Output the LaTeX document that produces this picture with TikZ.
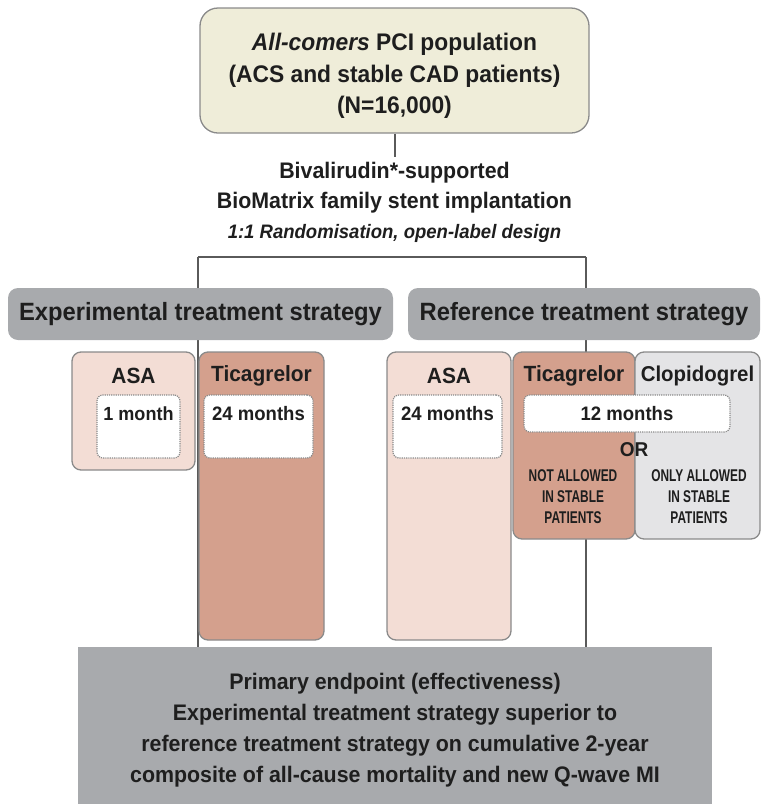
\documentclass[tikz,border=0pt]{standalone}
\usepackage{fontspec}
\setmainfont{Liberation Sans}[FakeStretch=0.95]
\newfontfamily\notefont{Liberation Sans}[FakeStretch=0.7]
\usetikzlibrary{backgrounds}
\definecolor{popfill}{HTML}{EFEDD9}
\definecolor{armfill}{HTML}{A8AAAD}
\definecolor{asafill}{HTML}{F3DDD5}
\definecolor{ticfill}{HTML}{D4A08D}
\definecolor{clofill}{HTML}{E4E4E6}
\definecolor{boxline}{HTML}{8A8A8A}
\definecolor{wireline}{HTML}{5A5A5A}
\definecolor{ink}{HTML}{1E1E1E}
\newcommand{\txtsize}[2]{\fontsize{#1}{#2}\selectfont\bfseries}
\tikzset{
  rbox/.style={draw=boxline, line width=1.3pt, rounded corners=9pt, inner sep=0pt},
  armbox/.style={fill=armfill, draw=none, rounded corners=10pt, inner sep=0pt},
  durbox/.style={draw=boxline, fill=white, densely dotted, line width=1.2pt, rounded corners=6pt, inner sep=0pt},
  txt/.style={text=ink, align=center, inner sep=0pt},
  wire/.style={draw=wireline, line width=2pt}
}
\begin{document}
\begin{tikzpicture}[x=1pt,y=-1pt]
\useasboundingbox (0,0) rectangle (767,804);
\node[rbox, fill=popfill, rounded corners=18pt, minimum width=389pt, minimum height=125pt] (pop) at (394.5,70.5){};
\node[txt, font=\txtsize{24}{31.5}] (poptxt) at (394.5,76){\itshape All-comers\upshape{} PCI population\\(ACS and stable CAD patients)\\(N=16,000)};
\node[txt, font=\txtsize{22.5}{30}] (stent) at (394.5,188){Bivalirudin*-supported\\BioMatrix family stent implantation};
\node[txt, font=\txtsize{19.5}{24}\itshape] (rand) at (394.5,233){1:1 Randomisation, open-label design};
\coordinate (split) at (394.5,157);
\coordinate (lft) at (198,257);
\coordinate (rgt) at (586,257);
\node[armbox, minimum width=385pt, minimum height=52pt] (expArm) at (200.5,314){};
\node[txt, font=\txtsize{25}{30}] at (expArm){Experimental treatment strategy};
\node[armbox, minimum width=352pt, minimum height=52pt] (refArm) at (584,314){};
\node[txt, font=\txtsize{25}{30}] at (refArm){Reference treatment strategy};
\node[rbox, fill=asafill, minimum width=123pt, minimum height=118pt] (asaE) at (133.5,411){};
\node[rbox, fill=ticfill, minimum width=125pt, minimum height=288pt] (ticE) at (261.5,496){};
\node[rbox, fill=asafill, minimum width=124pt, minimum height=288pt] (asaR) at (449,496){};
\node[rbox, fill=ticfill, minimum width=122pt, minimum height=187pt] (ticR) at (574,445.5){};
\node[rbox, fill=clofill, minimum width=125pt, minimum height=187pt] (clo) at (697.5,445.5){};
\node[txt, font=\txtsize{22}{26}] at (133.5,376){ASA};
\node[txt, font=\txtsize{22}{26}] at (261.5,376){Ticagrelor};
\node[txt, font=\txtsize{22}{26}] at (449,376){ASA};
\node[txt, font=\txtsize{22}{26}] at (574,376){Ticagrelor};
\node[txt, font=\txtsize{21.5}{26}] at (697.5,376){Clopidogrel};
\node[durbox, minimum width=83pt, minimum height=63pt] (durE1) at (138.5,426.5){};
\node[durbox, minimum width=109pt, minimum height=63pt] (durE2) at (258.5,426.5){};
\node[durbox, minimum width=109pt, minimum height=63pt] (durR1) at (447.5,426.5){};
\node[durbox, minimum width=206pt, minimum height=37pt] (durR2) at (627,413.5){};
\node[txt, font=\txtsize{19}{22}] at (138.5,414){1 month};
\node[txt, font=\txtsize{19.5}{22}] at (258.5,414){24 months};
\node[txt, font=\txtsize{19.5}{22}] at (447.5,414){24 months};
\node[txt, font=\txtsize{19.5}{22}] at (627,413.5){12 months};
\node[txt, font=\txtsize{20}{24}] (orr) at (634,450){OR};
\node[txt, font=\notefont\txtsize{17}{21}] at (573,497){NOT ALLOWED\\IN STABLE\\PATIENTS};
\node[txt, font=\notefont\txtsize{17}{21}] at (699,497){ONLY ALLOWED\\IN STABLE\\PATIENTS};
\node[fill=armfill, inner sep=0pt, minimum width=634pt, minimum height=157pt] (endp) at (395,725.5){};
\node[txt, font=\txtsize{22.5}{31}] at (395,730){Primary endpoint (effectiveness)\\Experimental treatment strategy superior to\\reference treatment strategy on cumulative 2-year\\composite of all-cause mortality and new Q-wave MI};
\begin{pgfonlayer}{background}
\draw[wire](pop.south) -- (split);
\draw[wire](lft) -- (rgt);
\draw[wire](lft) -- (lft |- endp.north);
\draw[wire](rgt) -- (rgt |- endp.north);
\end{pgfonlayer}
\end{tikzpicture}
\end{document}
